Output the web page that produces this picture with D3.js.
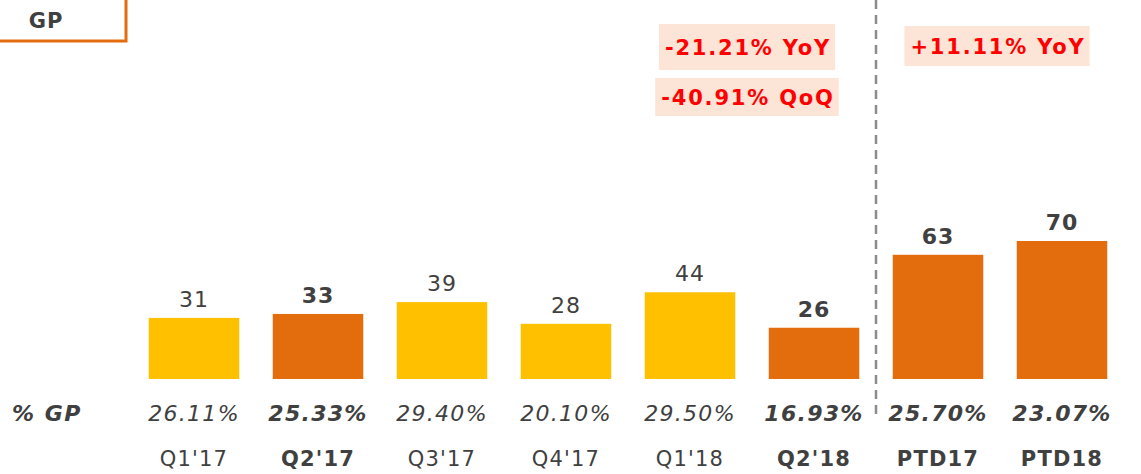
<!DOCTYPE html>
<html>
<head>
<meta charset="utf-8">
<script src="https://cdn.jsdelivr.net/npm/d3@7"></script>
<style>
  body { margin: 0; background: #fff; }
  svg { display: block; font-family: Verdana, "DejaVu Sans", sans-serif; }
</style>
</head>
<body>
<svg id="chart" width="1141" height="474"></svg>
<script>
// chart data
const categories = ["Q1'17", "Q2'17", "Q3'17", "Q4'17", "Q1'18", "Q2'18", "PTD17", "PTD18"];
const gpValues = [31, 33, 39, 28, 44, 26, 63, 70];
const gpPercent = ["26.11%", "25.33%", "29.40%", "20.10%", "29.50%", "16.93%", "25.70%", "23.07%"];
const highlighted = [false, true, false, false, false, true, true, true];
const callouts = [
  {text: "-21.21% YoY", cat: "Q2'18"},
  {text: "-40.91% QoQ", cat: "Q2'18"},
  {text: "+11.11% YoY", cat: "PTD18"}
];

const svg = d3.select("svg#chart");
const baseY = 379;
const textCol = "#404040";

const x = d3.scaleBand()
    .domain(categories)
    .range([132, 1124])
    .paddingInner(0.27)
    .paddingOuter(0.135);

const y = d3.scaleLinear()
    .domain([0, 70])
    .range([baseY, baseY - 138]);

// bars
svg.append("g").selectAll("rect")
  .data(categories)
  .join("rect")
    .attr("x", d => x(d))
    .attr("y", (d, i) => y(gpValues[i]))
    .attr("width", x.bandwidth())
    .attr("height", (d, i) => baseY - y(gpValues[i]))
    .attr("fill", (d, i) => highlighted[i] ? "#E36C0C" : "#FFC000");

// value labels above bars
svg.append("g").selectAll("text")
  .data(categories)
  .join("text")
    .attr("x", d => x(d) + x.bandwidth() / 2)
    .attr("y", (d, i) => y(gpValues[i]) - 11)
    .attr("text-anchor", "middle")
    .attr("font-size", 22)
    .attr("letter-spacing", 1)
    .attr("font-weight", (d, i) => highlighted[i] ? "bold" : "normal")
    .attr("fill", textCol)
    .text((d, i) => gpValues[i]);

// % GP row
svg.append("text")
    .attr("x", 12)
    .attr("y", 421)
    .attr("font-size", 22)
    .attr("letter-spacing", 1.5)
    .attr("font-weight", "bold")
    .attr("font-style", "italic")
    .attr("fill", textCol)
    .text("% GP");

svg.append("g").selectAll("text")
  .data(categories)
  .join("text")
    .attr("x", d => x(d) + x.bandwidth() / 2)
    .attr("y", 421)
    .attr("text-anchor", "middle")
    .attr("font-size", 22)
    .attr("letter-spacing", 1.3)
    .attr("font-style", "italic")
    .attr("font-weight", (d, i) => highlighted[i] ? "bold" : "normal")
    .attr("fill", textCol)
    .text((d, i) => gpPercent[i]);

// category labels
svg.append("g").selectAll("text")
  .data(categories)
  .join("text")
    .attr("x", d => x(d) + x.bandwidth() / 2)
    .attr("y", 466)
    .attr("text-anchor", "middle")
    .attr("font-size", 21)
    .attr("letter-spacing", 1.2)
    .attr("font-weight", (d, i) => highlighted[i] ? "bold" : "normal")
    .attr("fill", textCol)
    .text(d => d);

// dashed separator between quarters and PTD
const sepX = (x("Q2'18") + x.bandwidth() + x("PTD17")) / 2;
svg.append("line")
    .attr("x1", sepX).attr("x2", sepX)
    .attr("y1", 0).attr("y2", 414)
    .attr("stroke", "#8c8c8c")
    .attr("stroke-width", 2.5)
    .attr("stroke-dasharray", "9,6");

// callout boxes
const boxY = [24, 78, 26];
const boxH = [46, 38, 40];
callouts.forEach((c, i) => {
  const cx = x(c.cat) + x.bandwidth() / 2 + (i < 2 ? -66 : -64);
  const g = svg.append("g");
  const t = g.append("text")
      .attr("x", cx)
      .attr("y", boxY[i] + boxH[i] / 2 + 8)
      .attr("text-anchor", "middle")
      .attr("font-size", 21)
      .attr("letter-spacing", 1.8)
      .attr("font-weight", "bold")
      .attr("fill", "#ff0000")
      .text(c.text);
  const bb = t.node().getBBox();
  g.insert("rect", "text")
      .attr("x", bb.x - 6)
      .attr("y", boxY[i])
      .attr("width", bb.width + 10)
      .attr("height", boxH[i])
      .attr("fill", "#fce4d6");
});

// GP title box (top left)
svg.append("rect")
    .attr("x", -10).attr("y", -10)
    .attr("width", 136).attr("height", 51)
    .attr("fill", "#fff")
    .attr("stroke", "#E36C0C")
    .attr("stroke-width", 3);
svg.append("text")
    .attr("x", 46).attr("y", 28)
    .attr("text-anchor", "middle")
    .attr("font-size", 21)
    .attr("letter-spacing", 1)
    .attr("font-weight", "bold")
    .attr("fill", textCol)
    .text("GP");
</script>
</body>
</html>
